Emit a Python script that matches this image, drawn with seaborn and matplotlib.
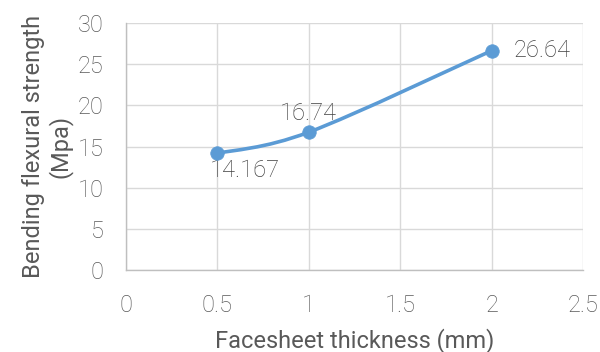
import numpy as np
import matplotlib
matplotlib.use("Agg")
import matplotlib.pyplot as plt
import seaborn as sns
import pandas as pd
from matplotlib.path import Path
from matplotlib.patches import PathPatch

thickness = [0.5, 1.0, 2.0]
strength = [14.167, 16.74, 26.64]
labels = ["14.167", "16.74", "26.64"]
x_ticks = [0, 0.5, 1, 1.5, 2, 2.5]
x_tick_labels = ["0", "0.5", "1", "1.5", "2", "2.5"]
y_ticks = [0, 5, 10, 15, 20, 25, 30]

sns.set_theme(style="white")
plt.rcParams["font.family"] = ["Roboto", "DejaVu Sans"]
plt.rcParams["font.weight"] = "light"

TEXT = "#595959"
GRID = "#d9d9d9"
LINE = "#5b9bd5"
FS = 17

df = pd.DataFrame({"thickness": thickness, "strength": strength})

fig = plt.figure(figsize=(6.0, 3.52), dpi=100)
ax = fig.add_axes([126 / 600, 1 - 270 / 352, (583 - 126) / 600, (270 - 23) / 352])

# Smoothed connecting line as cubic Bezier segments (Catmull-Rom control points)
xs = np.array(thickness)
ys = np.array(strength)
n = len(xs)
verts = [(xs[0], ys[0])]
codes = [Path.MOVETO]
for i in range(n - 1):
    p0 = np.array([xs[max(i - 1, 0)], ys[max(i - 1, 0)]])
    p1 = np.array([xs[i], ys[i]])
    p2 = np.array([xs[i + 1], ys[i + 1]])
    p3 = np.array([xs[min(i + 2, n - 1)], ys[min(i + 2, n - 1)]])
    c1 = p1 + (p2 - p0) / 6.0
    c2 = p2 - (p3 - p1) / 6.0
    verts += [tuple(c1), tuple(c2), tuple(p2)]
    codes += [Path.CURVE4] * 3
ax.add_patch(PathPatch(Path(verts, codes), facecolor="none", edgecolor=LINE,
                       lw=2.6, capstyle="round", zorder=3))

sns.scatterplot(data=df, x="thickness", y="strength", ax=ax, color=LINE,
                s=95, edgecolor=LINE, linewidth=0.5, zorder=4, legend=False)

ax.set_xlim(0, 2.5)
ax.set_ylim(0, 30)
ax.set_xticks(x_ticks)
ax.set_xticklabels(x_tick_labels)
ax.set_yticks(y_ticks)
ax.grid(True, color=GRID, lw=1.0)
ax.set_axisbelow(True)
for side in ["top", "right"]:
    ax.spines[side].set_visible(False)
for side in ["left", "bottom"]:
    ax.spines[side].set_color("#bfbfbf")
    ax.spines[side].set_linewidth(1.0)
ax.tick_params(axis="both", length=0, labelsize=FS, labelcolor=TEXT)
ax.tick_params(axis="x", pad=17)
ax.tick_params(axis="y", pad=16)

ax.set_xlabel("Facesheet thickness (mm)", fontsize=FS, color=TEXT, labelpad=8)
ax.set_ylabel("Bending flexural strength\n(Mpa)", fontsize=FS, color=TEXT,
              labelpad=4, linespacing=1.1)

# Data labels
ax.annotate(labels[0], (thickness[0], strength[0]), xytext=(-8, -17),
            textcoords="offset pixels", ha="left", va="center",
            fontsize=FS, color="#404040")
ax.annotate(labels[1], (thickness[1], strength[1]), xytext=(0, 19),
            textcoords="offset pixels", ha="center", va="center",
            fontsize=FS, color="#404040")
ax.annotate(labels[2], (thickness[2], strength[2]), xytext=(22, 0),
            textcoords="offset pixels", ha="left", va="center",
            fontsize=FS, color="#404040")

fig.savefig("out.png", dpi=100)
